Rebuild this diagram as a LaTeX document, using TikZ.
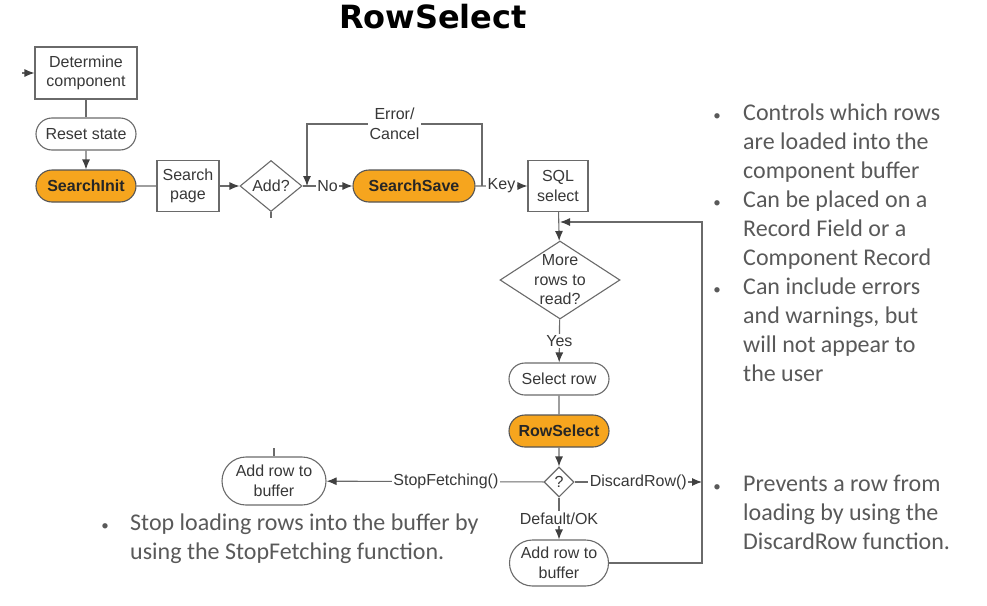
\documentclass[tikz,border=0pt]{standalone}
\usepackage{fontspec}
\usetikzlibrary{shapes,arrows,arrows.meta,positioning}
\newfontfamily\diafont{Liberation Sans}
\newfontfamily\notefont{Carlito}
\newfontfamily\headfont{DejaVu Sans}
\definecolor{lineg}{HTML}{6A6A6A}
\definecolor{textg}{HTML}{595959}
\definecolor{boxtext}{HTML}{383838}
\definecolor{peopleorange}{HTML}{F6A51E}

\begin{document}
\begin{tikzpicture}[x=1pt, y=-1pt,
  box/.style={draw=lineg, line width=1.1pt, fill=white, text=boxtext, align=center, inner sep=1pt, font=\diafont\fontsize{16}{19.5}\selectfont},
  pill/.style={box, rounded rectangle, minimum width=102pt, minimum height=32pt},
  event/.style={pill, fill=peopleorange, draw=lineg!80!black, font=\diafont\bfseries\fontsize{16}{19.5}\selectfont, text=black!85},
  ask/.style={box, diamond, inner sep=0pt},
  lbl/.style={fill=white, inner sep=1.5pt, text=boxtext, align=center, font=\diafont\fontsize{16}{19.5}\selectfont},
  flow/.style={->, draw=lineg, line width=1.1pt, >={Latex[length=10pt,width=8pt,color=black!75]}},
  link/.style={draw=lineg, line width=1.1pt},
  note/.style={anchor=north west, inner sep=0pt, align=left, text=textg, font=\notefont\fontsize{24}{29}\selectfont},
  dot/.style={anchor=base, inner sep=0pt, text=textg, font=\notefont\fontsize{15}{29}\selectfont}]
\useasboundingbox (0,0) rectangle (987,605);

\node[font=\headfont\bfseries\fontsize{32}{38}\selectfont] (T) at (433,17) {RowSelect};

% left column
\node[box, minimum width=102pt, minimum height=52pt] (DC) at (86,73) {Determine\\component};
\node[pill] (RS) at (86,134) {Reset state};
\node[event] (SI) at (86,186) {SearchInit};
\node[box, minimum width=62pt, minimum height=51pt] (SP) at (188,186) {Search\\page};
\node[ask, minimum width=62pt, minimum height=51pt, label={[text=boxtext, font=\diafont\fontsize{16}{19.5}\selectfont]center:Add?}] (AD) at (271,186) {};
\node[event, minimum width=124pt] (SS) at (414,186) {SearchSave};
\node[box, minimum width=60pt, minimum height=51pt] (SQ) at (558,186) {SQL\\select};

% fetch loop
\node[ask, minimum width=120pt, minimum height=78pt, label={[align=center, text=boxtext, font=\diafont\fontsize{16}{19.5}\selectfont]center:More\\rows to\\read?}] (MR) at (560,280) {};
\node[pill] (SR) at (559,379) {Select row};
\node[event] (RW) at (559,431) {RowSelect};
\node[ask, minimum width=30pt, minimum height=30pt, label={[text=boxtext, font=\diafont\fontsize{16}{19.5}\selectfont]center:?}] (QD) at (559,482) {};
\node[pill, minimum width=106pt, minimum height=48pt] (AL) at (274,481) {Add row to\\buffer};
\node[pill, minimum width=101pt, minimum height=46pt] (AR) at (559,563) {Add row to\\buffer};

\coordinate (IN) at (22,73);
\coordinate (AS) at (271,218);
\coordinate (NO) at (307,186);
\coordinate (ER) at (482,186);
\coordinate (LT) at (702,222);
\coordinate (LI) at (560,222);
\coordinate (DR) at (702,482);
\coordinate (AT) at (274,448);

%==========
\draw[flow] (IN) -- (DC);
\draw[link] (DC) -- (RS);
\draw[flow] (RS) -- (SI);
\draw[link] (SI) -- (SP);
\draw[flow] (SP) -- (AD);
\draw[link] (AD) -- (AS);
\draw[flow] (AD) -- node[lbl] {No} (SS);
\draw[flow] (ER) -- ++(0,-62) -| node[lbl, pos=0.25] {Error/\\Cancel} (NO);
\draw[flow] (SS) -- node[lbl] {Key} (SQ);
\draw[flow] (SQ) -- (MR);
\draw[flow] (MR) -- node[lbl] {Yes} (SR);
\draw[link] (SR) -- (RW);
\draw[flow] (RW) -- (QD);
\draw[flow] (QD) -- node[lbl, pos=0.45] {StopFetching()} (AL);
\draw[link] (AT) -- (AL);
\draw[flow] (QD) -- node[lbl] {DiscardRow()} (DR);
\draw[flow] (QD) -- node[lbl] {Default/OK} (AR);
\draw[flow] (AR) -| (LT) -- (LI);

% notes
\node[dot] (B1) at (717,120) {•};
\node[note] (N1) at (743,104) {Controls which rows\\are loaded into the\\component buffer};
\node[dot] (B2) at (717,207) {•};
\node[note] (N2) at (743,191) {Can be placed on a\\Record Field or a\\Component Record};
\node[dot] (B3) at (717,294) {•};
\node[note] (N3) at (743,278) {Can include errors\\and warnings, but\\will not appear to\\the user};
\node[dot] (B4) at (717,491) {•};
\node[note] (N4) at (743,475) {Prevents a row from\\loading by using the\\DiscardRow function.};
\node[dot] (B5) at (105,530) {•};
\node[note] (N5) at (130,514) {Stop loading rows into the buffer by\\using the StopFetching function.};

\end{tikzpicture}
\end{document}
